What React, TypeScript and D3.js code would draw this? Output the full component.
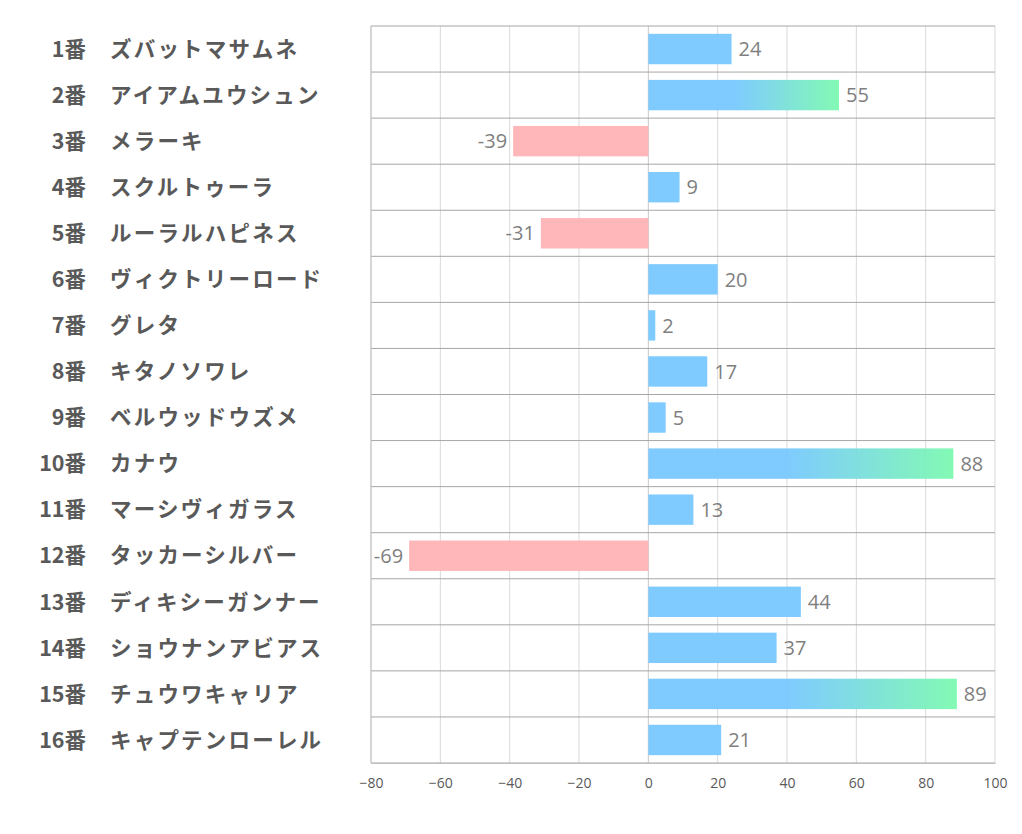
import { useEffect, useRef } from 'react';
import * as d3 from 'd3';

const numbers = ['1番', '2番', '3番', '4番', '5番', '6番', '7番', '8番', '9番', '10番', '11番', '12番', '13番', '14番', '15番', '16番'];
const names = [
  'ズバットマサムネ', 'アイアムユウシュン', 'メラーキ', 'スクルトゥーラ',
  'ルーラルハピネス', 'ヴィクトリーロード', 'グレタ', 'キタノソワレ',
  'ベルウッドウズメ', 'カナウ', 'マーシヴィガラス', 'タッカーシルバー',
  'ディキシーガンナー', 'ショウナンアビアス', 'チュウワキャリア', 'キャプテンローレル',
];
const values = [24, 55, -39, 9, -31, 20, 2, 17, 5, 88, 13, -69, 44, 37, 89, 21];
const xTicks = [-80, -60, -40, -20, 0, 20, 40, 60, 80, 100];

const W = 1022;
const H = 834;
const left = 371;
const right = 995;
const top = 26;
const bottom = 763;

export default function App() {
  const svgRef = useRef<SVGSVGElement>(null);

  useEffect(() => {
    const svg = d3.select(svgRef.current);
    svg.selectAll('*').remove();

    const x = d3.scaleLinear().domain([-80, 100]).range([left, right]);
    const y = d3.scaleBand<number>()
      .domain(d3.range(values.length))
      .range([top, bottom])
      .paddingInner(0.34)
      .paddingOuter(0.17);
    const rowH = (bottom - top) / values.length;

    const defs = svg.append('defs');
    const grad = defs.append('linearGradient')
      .attr('id', 'hot')
      .attr('x1', '0%').attr('x2', '100%').attr('y1', '0%').attr('y2', '0%');
    grad.append('stop').attr('offset', '45%').attr('stop-color', '#78C8FF');
    grad.append('stop').attr('offset', '100%').attr('stop-color', '#7CF9B0');

    // vertical grid
    svg.append('g')
      .selectAll('line')
      .data(xTicks)
      .join('line')
      .attr('x1', d => x(d)).attr('x2', d => x(d))
      .attr('y1', top).attr('y2', bottom)
      .attr('stroke', d => (d === 0 ? '#c8c8c8' : '#d9d9d9'))
      .attr('stroke-width', 1);

    // horizontal row separators
    svg.append('g')
      .selectAll('line')
      .data(d3.range(values.length + 1))
      .join('line')
      .attr('x1', left).attr('x2', right)
      .attr('y1', d => top + d * rowH).attr('y2', d => top + d * rowH)
      .attr('stroke', '#a6a6a6')
      .attr('stroke-width', 1);

    svg.append('line')
      .attr('x1', left).attr('x2', left)
      .attr('y1', top).attr('y2', bottom)
      .attr('stroke', '#bfbfbf');

    // bars
    svg.append('g')
      .selectAll('rect')
      .data(values)
      .join('rect')
      .attr('x', d => x(Math.min(0, d)))
      .attr('width', d => Math.abs(x(d) - x(0)))
      .attr('y', (_, i) => y(i)!)
      .attr('height', y.bandwidth())
      .attr('fill', d => (d < 0 ? '#FFB3B5' : d >= 50 ? 'url(#hot)' : '#78C8FF'))
      .attr('fill-opacity', 0.95);

    // value labels
    svg.append('g')
      .selectAll('text')
      .data(values)
      .join('text')
      .attr('x', d => (d < 0 ? x(d) - 6 : x(d) + 7))
      .attr('y', (_, i) => y(i)! + y.bandwidth() / 2)
      .attr('dy', '0.36em')
      .attr('text-anchor', d => (d < 0 ? 'end' : 'start'))
      .attr('font-family', '"Open Sans", "Noto Sans", sans-serif')
      .attr('font-size', 20)
      .attr('fill', '#7f7f7f')
      .text(d => d);

    // category labels
    const cat = svg.append('g')
      .attr('font-family', '"Noto Sans CJK JP", sans-serif')
      .attr('font-weight', 'bold')
      .attr('font-size', 21.5)
      .attr('fill', '#595959');
    cat.selectAll('text.num')
      .data(numbers)
      .join('text')
      .attr('class', 'num')
      .attr('x', 86)
      .attr('y', (_, i) => top + (i + 0.5) * rowH)
      .attr('dy', '0.36em')
      .attr('text-anchor', 'end')
      .text(d => d);
    cat.selectAll('text.name')
      .data(names)
      .join('text')
      .attr('class', 'name')
      .attr('x', 110)
      .attr('y', (_, i) => top + (i + 0.5) * rowH)
      .attr('dy', '0.36em')
      .attr('letter-spacing', 2.2)
      .text(d => d);

    // x axis
    const axis = svg.append('g')
      .attr('transform', `translate(0,${bottom})`)
      .call(d3.axisBottom(x).tickValues(xTicks).tickSize(0).tickPadding(15));
    axis.select('.domain').attr('stroke', '#bfbfbf');
    axis.selectAll('text')
      .attr('font-family', '"Open Sans", "Noto Sans", sans-serif')
      .attr('font-size', 14)
      .attr('fill', '#595959');
  }, []);

  return (
    <svg ref={svgRef} width={W} height={H} style={{ display: 'block', margin: -8, background: '#fff' }} />
  );
}
